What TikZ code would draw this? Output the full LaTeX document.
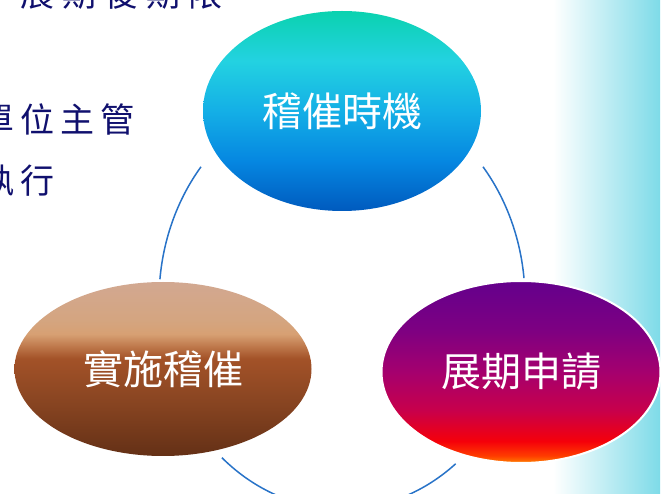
\documentclass[tikz,border=0pt]{standalone}
\usepackage{fontspec}
\newfontfamily\cjk{Noto Sans CJK TC}
\usetikzlibrary{shapes.geometric}
\definecolor{navy}{RGB}{16,16,110}
\definecolor{conncol}{RGB}{40,115,200}
\definecolor{bgcyan}{RGB}{126,219,232}
% top ellipse colours
\definecolor{tA}{RGB}{0,90,190}
\definecolor{tB}{RGB}{5,135,225}
\definecolor{tC}{RGB}{20,175,230}
\definecolor{tD}{RGB}{35,210,225}
\definecolor{tE}{RGB}{10,210,175}
% left ellipse colours
\definecolor{lA}{RGB}{100,48,22}
\definecolor{lB}{RGB}{135,68,33}
\definecolor{lC}{RGB}{163,82,40}
\definecolor{lD}{RGB}{190,120,75}
\definecolor{lE}{RGB}{215,160,115}
\definecolor{lF}{RGB}{212,165,128}
\definecolor{lG}{RGB}{210,168,145}
% right ellipse colours
\definecolor{rA}{RGB}{255,130,0}
\definecolor{rB}{RGB}{255,60,0}
\definecolor{rC}{RGB}{245,0,10}
\definecolor{rD}{RGB}{200,0,75}
\definecolor{rE}{RGB}{165,0,110}
\definecolor{rF}{RGB}{125,0,130}
\definecolor{rG}{RGB}{100,0,140}
\pgfdeclareverticalshading{topshade}{100bp}{color(0bp)=(tA); color(25bp)=(tA); color(37.5bp)=(tB); color(50bp)=(tC); color(62.5bp)=(tD); color(75bp)=(tE); color(100bp)=(tE)}
\pgfdeclareverticalshading{leftshade}{100bp}{color(0bp)=(lA); color(25bp)=(lA); color(40bp)=(lB); color(53bp)=(lC); color(56.5bp)=(lD); color(60bp)=(lE); color(64bp)=(lF); color(75bp)=(lG); color(100bp)=(lG)}
\pgfdeclareverticalshading{rightshade}{100bp}{color(0bp)=(rA); color(25bp)=(rA); color(27bp)=(rB); color(31bp)=(rC); color(39.4bp)=(rD); color(50bp)=(rE); color(61.7bp)=(rF); color(75bp)=(rG); color(100bp)=(rG)}
\tikzset{
  stage/.style={ellipse, inner sep=0pt, text=white, font=\cjk\fontsize{40}{40}\selectfont},
  conn/.style={draw=conncol, line width=1.5pt},
  side/.style={anchor=west, inner sep=0pt, text=navy, font=\cjk\fontsize{34}{34}\selectfont}
}
\newcommand{\gp}{\hspace{6pt}}
\begin{document}
\begin{tikzpicture}[x=1pt,y=-1pt]
\useasboundingbox (0,0) rectangle (662,494);
\clip (0,0) rectangle (662,494);
\fill[white] (0,0) rectangle (662,494);
\shade[left color=white, right color=bgcyan] (553,0) rectangle (660,494);
% side text
\node[side] (l1) at (20,-6) {展\hspace{8pt}期\hspace{8pt}後\hspace{8pt}期\hspace{8pt}限};
\node[side] (l2) at (-20,119) {單\gp 位\gp 主\gp 管};
\node[side] (l3) at (-20,181) {執\gp 行};
% cycle connectors
\coordinate (cyc) at (342,300);
\draw[conn] ([shift={(-140.4:183 and 209)}]cyc) arc[start angle=-140.4, end angle=-174.3, x radius=183, y radius=209];
\draw[conn] ([shift={(-39.6:183 and 209)}]cyc) arc[start angle=-39.6, end angle=-6, x radius=183, y radius=209];
\draw[conn] ([shift={(131:183 and 209)}]cyc) arc[start angle=131, end angle=51.6, x radius=183, y radius=209];
% stages
\node[stage, shading=topshade, minimum width=278pt, minimum height=200pt] (timing) at (342,111) {稽催時機};
\node[stage, shading=leftshade, minimum width=297pt, minimum height=174pt] (act) at (163,369) {實施稽催};
\node[stage, shading=rightshade, draw=white, line width=2pt, minimum width=279pt, minimum height=182pt] (ext) at (521,372) {展期申請};
\end{tikzpicture}
\end{document}
